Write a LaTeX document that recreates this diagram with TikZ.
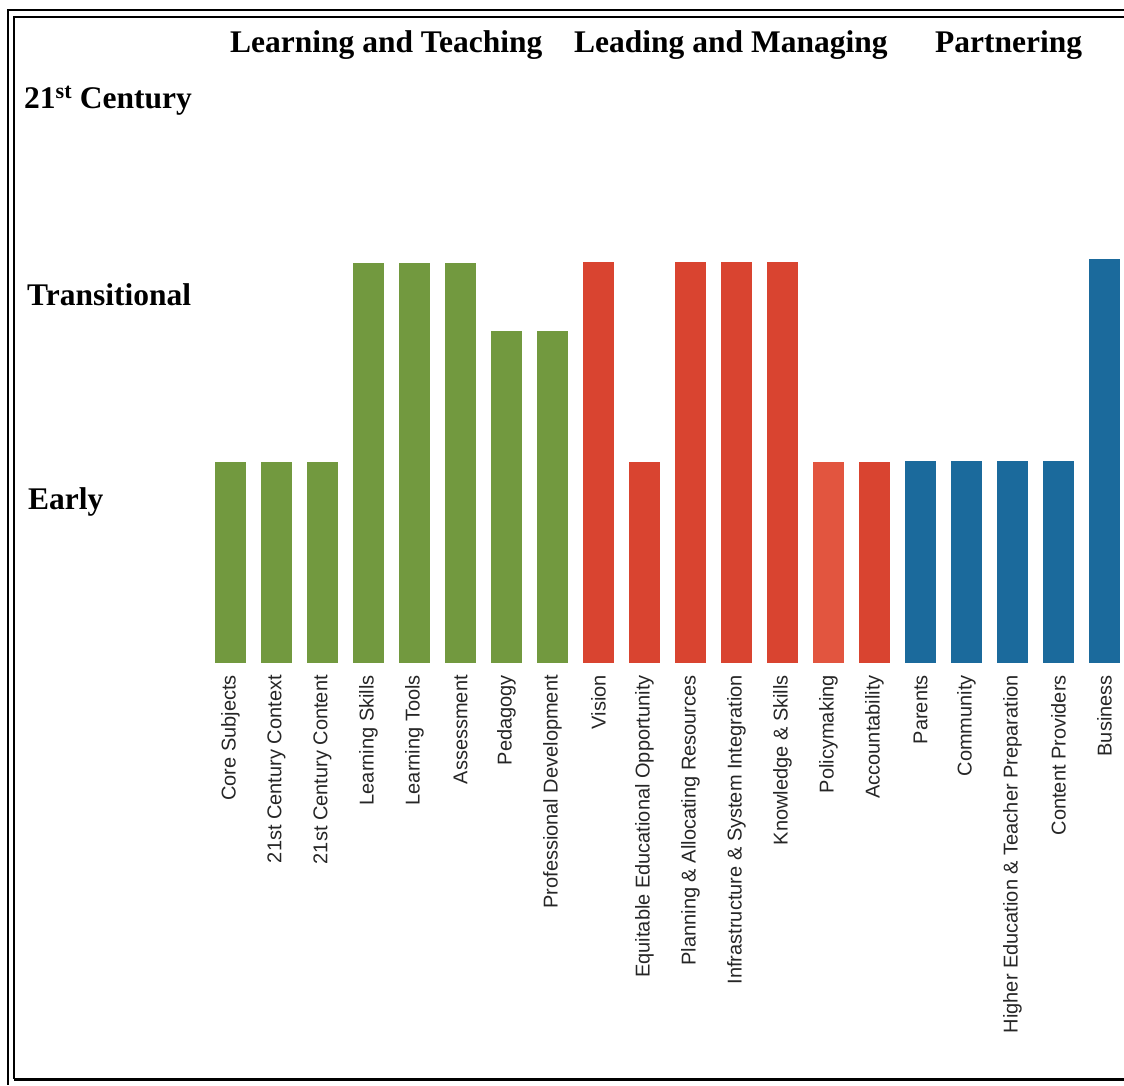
\documentclass[tikz,border=0pt]{standalone}
\usepackage{fontspec}
\setmainfont{Liberation Serif}
\newfontfamily\lblfont{Liberation Sans}
\definecolor{bgreen}{HTML}{72993F}
\definecolor{bred}{HTML}{D94430}
\definecolor{bredl}{HTML}{E2553F}
\definecolor{bblue}{HTML}{1B6A9C}
\begin{document}
\begin{tikzpicture}[x=1pt,y=-1pt,
  barbox/.style={draw=none, inner sep=0pt, minimum width=31pt, anchor=south},
  lab/.style={rotate=90, anchor=east, inner sep=0pt, text=black!85, font=\lblfont\fontsize{20}{24}\selectfont},
  head/.style={font=\bfseries\fontsize{31.5}{36}\selectfont, anchor=base west, inner sep=0pt},
  frameline/.style={draw=black, line width=1.4pt}]
\useasboundingbox (0,0) rectangle (1124,1085);
% frame
\draw[frameline] (1124,10) -- (8,10) -- (8,1085);
\draw[frameline] (1124,17) -- (14,17) -- (14,1079);
\draw[draw=black, line width=3pt] (14,1079) -- (1124,1079);
% headings
\node[head] (hlt) at (230,52) {Learning and Teaching};
\node[head] (hlm) at (574,52) {Leading and Managing};
\node[head] (hp) at (935,52) {Partnering};
\node[head] (l21) at (24,108) {21\textsuperscript{st} Century};
\node[head] (ltr) at (27,305) {Transitional};
\node[head] (lea) at (28,509) {Early};
% bars and labels
\foreach \i/\h/\col/\txt in {
  0/201/bgreen/Core Subjects,
  1/201/bgreen/21st Century Context,
  2/201/bgreen/21st Century Content,
  3/400/bgreen/Learning Skills,
  4/400/bgreen/Learning Tools,
  5/400/bgreen/Assessment,
  6/332/bgreen/Pedagogy,
  7/332/bgreen/Professional Development,
  8/401/bred/Vision,
  9/201/bred/Equitable Educational Opportunity,
  10/401/bred/Planning \& Allocating Resources,
  11/401/bred/Infrastructure \& System Integration,
  12/401/bred/Knowledge \& Skills,
  13/201/bredl/Policymaking,
  14/201/bred/Accountability,
  15/202/bblue/Parents,
  16/202/bblue/Community,
  17/202/bblue/Higher Education \& Teacher Preparation,
  18/202/bblue/Content Providers,
  19/404/bblue/Business}{
  \node[barbox, fill=\col, minimum height=\h] (b\i) at ({230.5+46*\i},663) {};
  \node[lab] (t\i) at ([yshift=-12pt]b\i.south) {\txt};
}
\end{tikzpicture}
\end{document}
